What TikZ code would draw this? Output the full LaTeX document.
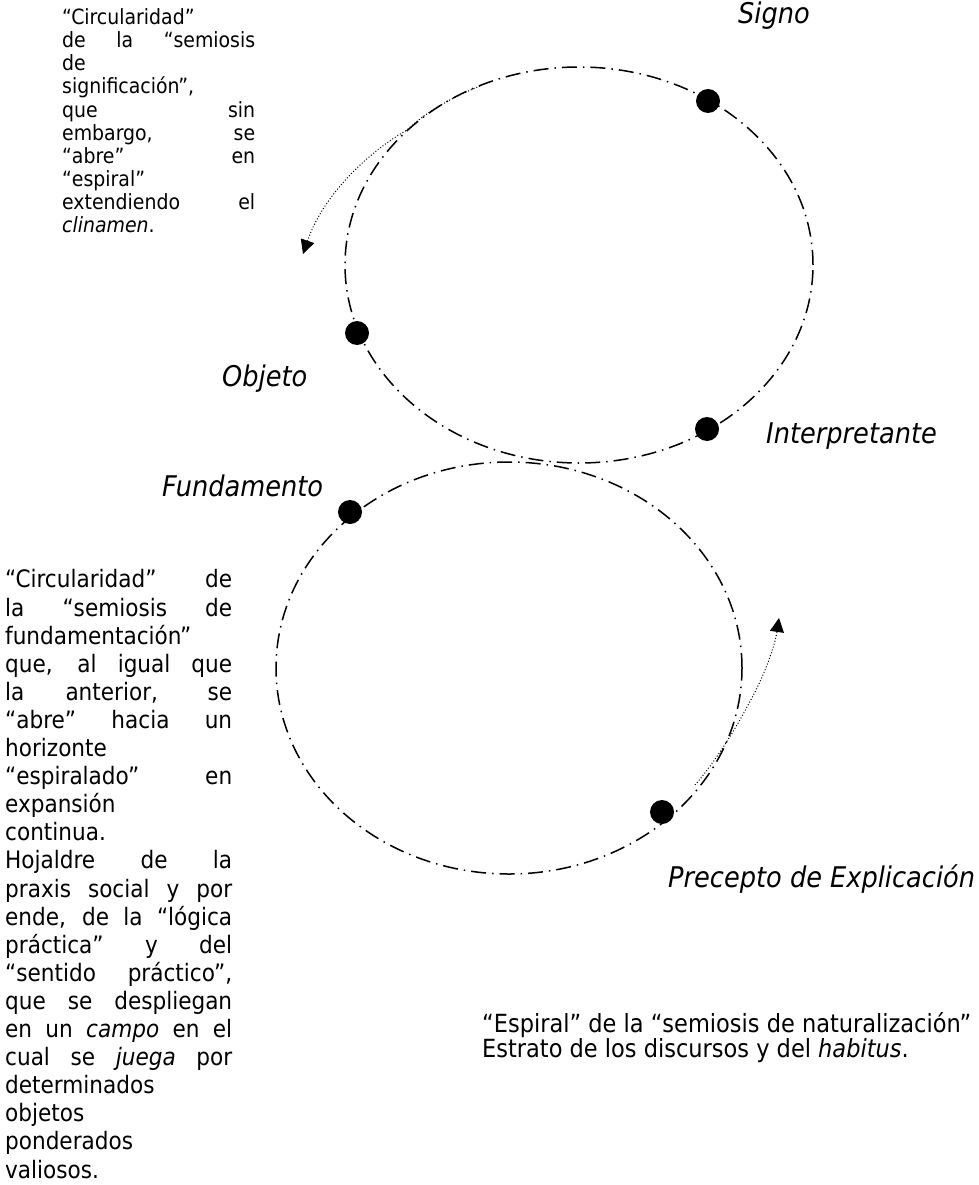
\documentclass[tikz,border=0pt]{standalone}
\usepackage{fontspec}
\setmainfont{DejaVu Sans Condensed}
\usetikzlibrary{arrows.meta}
\newlength\colA \setlength\colA{193pt}
\newlength\colB \setlength\colB{227pt}
\newcommand\jA[1]{\makebox[\colA][s]{#1}}
\newcommand\lA[1]{\makebox[\colA][l]{#1}}
\newcommand\jB[1]{\makebox[\colB][s]{#1}}
\newcommand\lB[1]{\makebox[\colB][l]{#1}}
\begin{document}
\begin{tikzpicture}[x=1pt,y=-1pt,
  sd/.style={line width=1.5pt, dash pattern=on 15pt off 6pt on 1.5pt off 6pt},
  dotarrow/.style={line width=1pt, dash pattern=on 1pt off 2pt, -{Triangle[length=14pt,width=14pt]}},
  blob/.style={circle, fill=black, inner sep=0pt, minimum size=24pt},
  lab/.style={font=\fontsize{28.5}{32}\selectfont\itshape, inner sep=0pt, anchor=base west},
  bodyA/.style={font=\fontsize{21}{23.1}\selectfont, inner sep=0pt, anchor=north west, align=left},
  bodyB/.style={font=\fontsize{24}{28.1}\selectfont, inner sep=0pt, anchor=north west, align=left},
  bodyC/.style={font=\fontsize{25}{23.1}\selectfont, inner sep=0pt, anchor=north west, align=left}]
\useasboundingbox (0,0) rectangle (979,1185);
% ellipses
\draw[sd] (579,265) ellipse [x radius=234pt, y radius=198pt];
\draw[sd] (509,668) ellipse [x radius=233pt, y radius=206pt];
% dots
\node[blob] (signo) at (708,101) {};
\node[blob] (objeto) at (357,333) {};
\node[blob] (interp) at (707,429) {};
\node[blob] (fund) at (350,512) {};
\node[blob] (prec) at (662,812) {};
% labels
\node[lab] (lsigno) at (738,24) {Signo};
\node[lab] (lobjeto) at (222,386) {Objeto};
\node[lab] (linterp) at (766,443) {Interpretante};
\node[lab] (lfund) at (162,496) {Fundamento};
\node[lab] (lprec) at (668,887) {Precepto de Explicación};
% arrows
\coordinate (a1) at (480,86);
\coordinate (a2) at (407,130);
\coordinate (a3) at (303,254);
\draw[dotarrow] (a1) .. controls (453,97) and (427,111) .. (a2) .. controls (375,148) and (325,190) .. (a3);
\coordinate (b1) at (695,785);
\coordinate (b2) at (748,705);
\coordinate (b3) at (779,618);
\draw[dotarrow] (b1) .. controls (715,762) and (735,730) .. (b2) .. controls (765,675) and (775,645) .. (b3);
% texts
\node[bodyA] (tA) at (62,8.5) {%
\lA{“Circularidad”}\\
\jA{de la “semiosis}\\
\lA{de}\\
\lA{significación”,}\\
\jA{que sin}\\
\jA{embargo, se}\\
\jA{“abre” en}\\
\lA{“espiral”}\\
\jA{extendiendo el}\\
\lA{\textit{clinamen}.}};
\node[bodyB] (tB) at (5,569.5) {%
\jB{“Circularidad” de}\\
\jB{la “semiosis de}\\
\lB{fundamentación”}\\
\jB{que, al igual que}\\
\jB{la anterior, se}\\
\jB{“abre” hacia un}\\
\lB{horizonte}\\
\jB{“espiralado” en}\\
\lB{expansión}\\
\lB{continua.}\\
\jB{Hojaldre de la}\\
\jB{praxis social y por}\\
\jB{ende, de la “lógica}\\
\jB{práctica” y del}\\
\jB{“sentido práctico”,}\\
\jB{que se despliegan}\\
\jB{en un \textit{campo} en el}\\
\jB{cual se \textit{juega} por}\\
\lB{determinados}\\
\lB{objetos}\\
\lB{ponderados}\\
\lB{valiosos.}};
\node[bodyC] (tC) at (482,1012.4) {“Espiral” de la “semiosis de naturalización”\\
Estrato de los discursos y del \textit{habitus}.};
\end{tikzpicture}
\end{document}
